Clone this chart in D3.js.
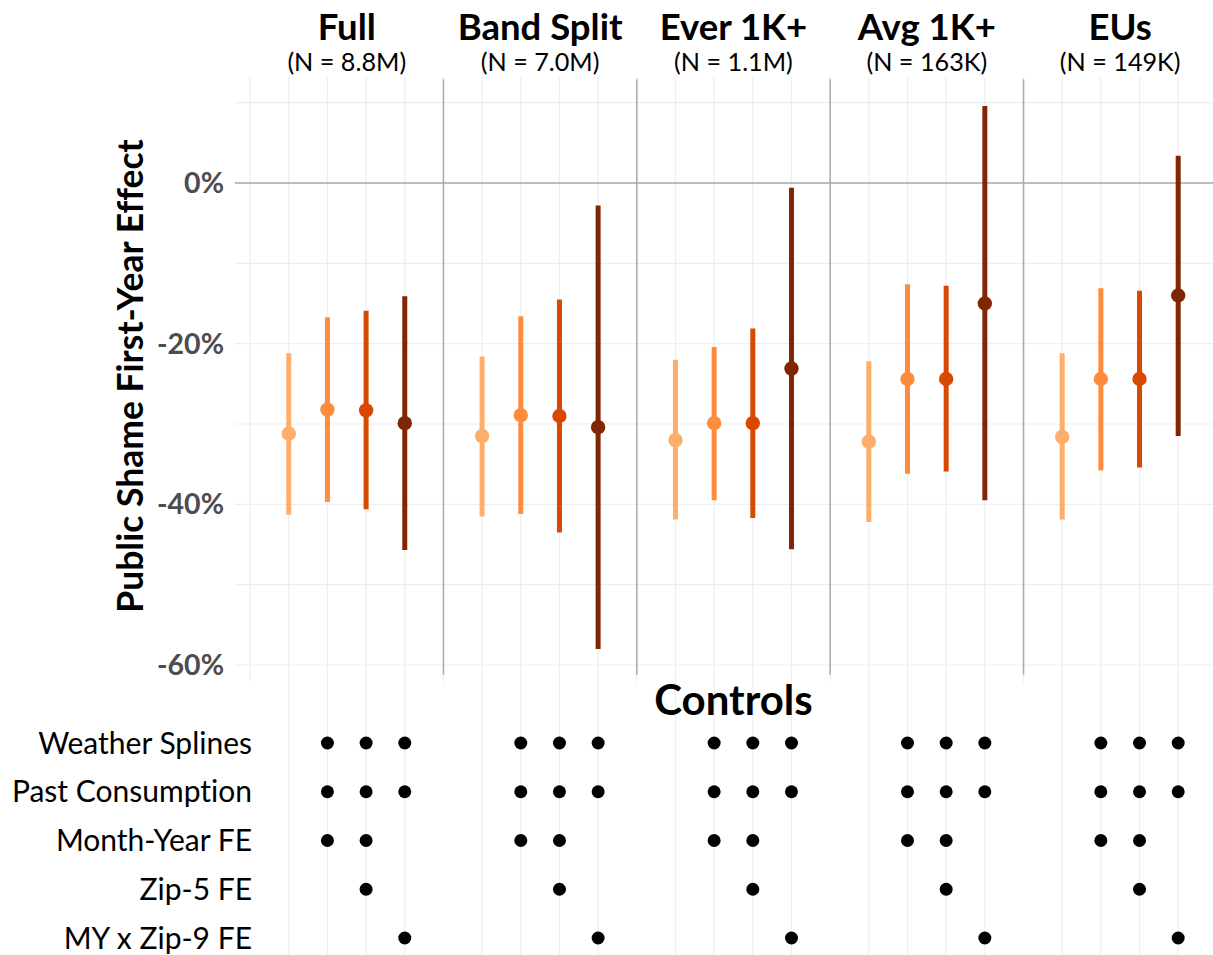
<!DOCTYPE html>
<html>
<head>
<meta charset="utf-8">
<script src="https://cdn.jsdelivr.net/npm/d3@7"></script>
<style>
  body { margin: 0; background: #fff; }
  text { font-family: Lato, "Open Sans", sans-serif; font-variant-ligatures: none; }
</style>
</head>
<body>
<svg id="chart" width="1213" height="955"></svg>
<script>
// ---- data
var panels = ["Full", "Band Split", "Ever 1K+", "Avg 1K+", "EUs"];
var sampleN = ["8.8M", "7.0M", "1.1M", "163K", "149K"];
var estimate = [
  [-31.2, -28.2, -28.3, -29.9],
  [-31.5, -28.9, -29.0, -30.4],
  [-32.0, -29.9, -29.9, -23.1],
  [-32.2, -24.4, -24.4, -15.0],
  [-31.6, -24.4, -24.4, -14.0]
];
var lower = [
  [-41.3, -39.7, -40.6, -45.7],
  [-41.5, -41.2, -43.5, -58.0],
  [-41.9, -39.5, -41.7, -45.6],
  [-42.2, -36.2, -35.9, -39.5],
  [-41.9, -35.8, -35.4, -31.5]
];
var upper = [
  [-21.2, -16.7, -15.9, -14.1],
  [-21.6, -16.6, -14.5, -2.8],
  [-22.0, -20.4, -18.1, -0.6],
  [-22.2, -12.6, -12.8, 9.6],
  [-21.2, -13.1, -13.4, 3.4]
];
var yTicks = [0, -20, -40, -60];
var controlNames = ["Weather Splines", "Past Consumption", "Month-Year FE", "Zip-5 FE", "MY x Zip-9 FE"];
// which of the 4 specs (per panel) include each control
var controlFlags = [
  [0, 1, 1, 1],
  [0, 1, 1, 1],
  [0, 1, 1, 0],
  [0, 0, 1, 0],
  [0, 0, 0, 1]
];
var specColors = ["#fdae6b", "#fd8d3c", "#d94801", "#7f2704"];

// ---- layout
var svg = d3.select("#chart");
var plotTop = 77, plotBottom = 682, plotLeft = 235, plotRight = 1213;

var x = d3.scaleLinear().domain([-0.39, 24.9]).range([plotLeft, plotRight]);
var y = d3.scaleLinear().domain([0, -60]).range([183, 665]);
var rowY = d3.scalePoint().domain(controlNames).range([743, 938]);

// flatten into rows with x position
var pts = [];
panels.forEach(function (p, g) {
  for (var k = 0; k < 4; k++) {
    pts.push({ g: g, k: k, pos: g * 5 + k + 1, est: estimate[g][k], lo: lower[g][k], hi: upper[g][k] });
  }
});

//-------------------------------------------- grid
var grid = svg.append("g");
grid.selectAll(".hgrid").data(d3.range(-60, 11, 10)).join("line").attr("class", "hgrid")
  .attr("x1", plotLeft).attr("x2", plotRight)
  .attr("y1", d => y(d)).attr("y2", d => y(d))
  .attr("stroke", "#eeeeee").attr("stroke-width", 1.2);
grid.selectAll(".vgrid").data(d3.range(0, 25)).join("line").attr("class", "vgrid")
  .attr("x1", d => x(d)).attr("x2", d => x(d))
  .attr("y1", plotTop).attr("y2", plotBottom)
  .attr("stroke", "#eeeeee").attr("stroke-width", 1.2);
// controls area grid, only at spec positions
grid.selectAll(".cgrid").data(pts).join("line").attr("class", "cgrid")
  .attr("x1", d => x(d.pos)).attr("x2", d => x(d.pos))
  .attr("y1", plotBottom).attr("y2", 955)
  .attr("stroke", "#eeeeee").attr("stroke-width", 1.2);

// zero line and panel separators
svg.append("line")
  .attr("x1", plotLeft).attr("x2", plotRight).attr("y1", y(0)).attr("y2", y(0))
  .attr("stroke", "#aaaaaa").attr("stroke-width", 1.5);
svg.selectAll(".sep").data([5, 10, 15, 20]).join("line").attr("class", "sep")
  .attr("x1", d => x(d)).attr("x2", d => x(d))
  .attr("y1", y(12.9)).attr("y2", y(-61.2))
  .attr("stroke", "#aaaaaa").attr("stroke-width", 1.5);

//-------------------------------------------- error bars + points
svg.selectAll(".bar").data(pts).join("line").attr("class", "bar")
  .attr("x1", d => x(d.pos)).attr("x2", d => x(d.pos))
  .attr("y1", d => y(d.hi)).attr("y2", d => y(d.lo))
  .attr("stroke", d => specColors[d.k]).attr("stroke-width", 5);
svg.selectAll(".pt").data(pts).join("circle").attr("class", "pt")
  .attr("cx", d => x(d.pos)).attr("cy", d => y(d.est)).attr("r", 7.2)
  .attr("fill", d => specColors[d.k]);

//-------------------------------------------- y axis
svg.selectAll(".ytick").data(yTicks).join("text").attr("class", "ytick")
  .attr("x", 224).attr("y", d => y(d)).attr("dy", "0.35em")
  .attr("text-anchor", "end").attr("font-size", 28.5).attr("font-weight", "bold")
  .attr("fill", "#4d4d4d")
  .text(d => d + "%");
svg.append("text")
  .attr("transform", "translate(143,376) rotate(-90)")
  .attr("text-anchor", "middle").attr("font-size", 35.5).attr("font-weight", "bold")
  .attr("fill", "#000")
  .text("Public Shame First-Year Effect");

//-------------------------------------------- panel titles
svg.selectAll(".ptitle").data(panels).join("text").attr("class", "ptitle")
  .attr("x", (d, i) => x(i * 5 + 2.5)).attr("y", 40)
  .attr("text-anchor", "middle").attr("font-size", 36.5).attr("font-weight", "bold")
  .text(d => d);
svg.selectAll(".psub").data(sampleN).join("text").attr("class", "psub")
  .attr("x", (d, i) => x(i * 5 + 2.5)).attr("y", 71)
  .attr("text-anchor", "middle").attr("font-size", 25.2)
  .text(d => "(N = " + d + ")");

//-------------------------------------------- controls matrix
svg.append("text")
  .attr("x", x(12.5)).attr("y", 715)
  .attr("text-anchor", "middle").attr("font-size", 42).attr("font-weight", "bold")
  .text("Controls");
svg.selectAll(".clabel").data(controlNames).join("text").attr("class", "clabel")
  .attr("x", 252).attr("y", d => rowY(d)).attr("dy", "0.35em")
  .attr("text-anchor", "end").attr("font-size", 30)
  .text(d => d);

var dots = [];
controlNames.forEach(function (c, r) {
  pts.forEach(function (p) {
    if (controlFlags[r][p.k]) dots.push({ c: c, pos: p.pos });
  });
});
svg.selectAll(".cdot").data(dots).join("circle").attr("class", "cdot")
  .attr("cx", d => x(d.pos)).attr("cy", d => rowY(d.c)).attr("r", 6.5)
  .attr("fill", "#000");
</script>
</body>
</html>
